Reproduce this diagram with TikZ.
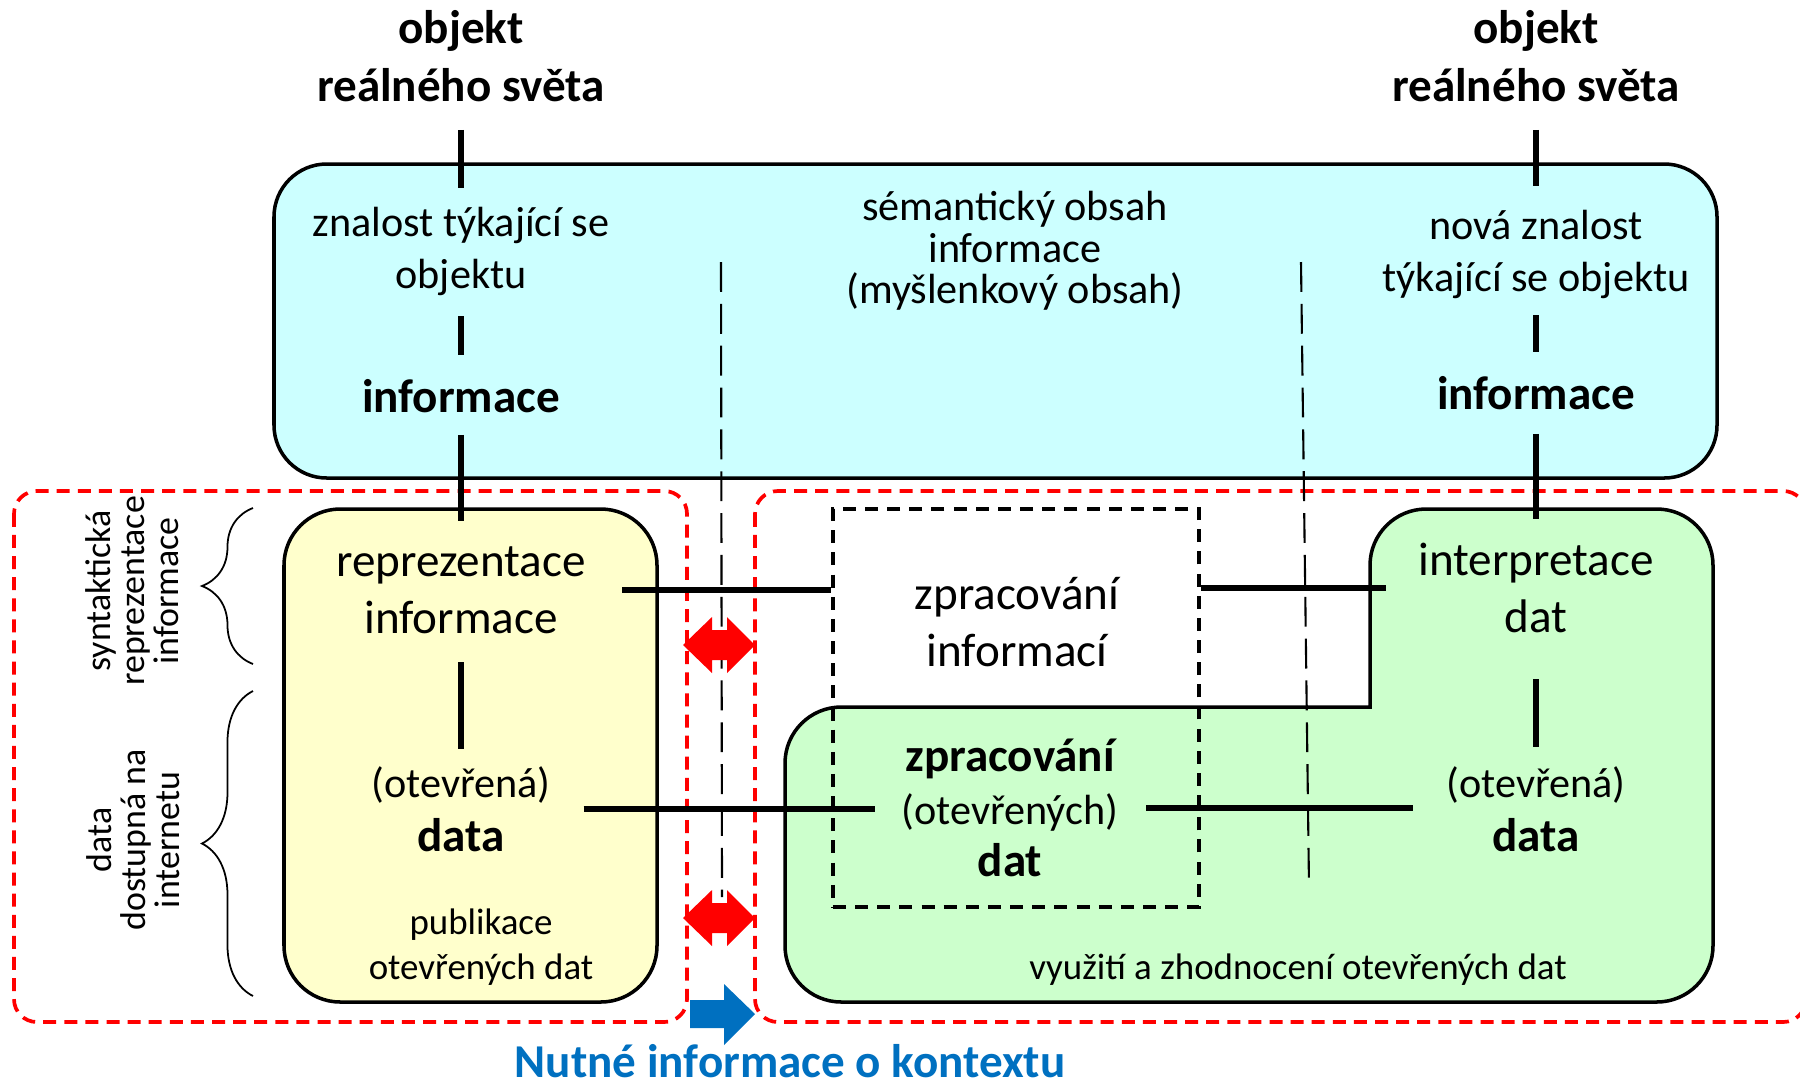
\documentclass[tikz,border=0pt]{standalone}
\usepackage{fontspec}
\setmainfont{Carlito}
\usepackage{xcolor}
\usetikzlibrary{positioning, decorations.pathreplacing}
\definecolor{SkyFill}{RGB}{204, 255, 255}
\definecolor{LemonFill}{RGB}{255, 255, 204}
\definecolor{MintFill}{RGB}{204, 255, 204}
\definecolor{CtxBlue}{RGB}{0, 112, 192}
\tikzset{
  panel/.style={draw=black, line width=1pt, rounded corners=15pt},
  zone/.style={draw=red, line width=1.05pt, dash pattern=on 3.7pt off 2.3pt,
    rounded corners=6.5pt},
  procframe/.style={draw=black, line width=1pt,
    dash pattern=on 3.7pt off 2.6pt, inner sep=0pt},
  guide/.style={line width=0.6pt, dash pattern=on 8.5pt off 3.4pt},
  curly/.style={decorate, decoration={brace, amplitude=0.51cm}, line width=0.5pt},
  link/.style={line width=1.65pt},
  headtxt/.style={font=\bfseries\fontsize{13.4}{16.5}\selectfont, align=center, inner sep=0pt},
  bigtxt/.style={font=\fontsize{13.4}{16.2}\selectfont, align=center, inner sep=0pt},
  midtxt/.style={font=\fontsize{12}{14.8}\selectfont, align=center, inner sep=0pt},
  smltxt/.style={font=\fontsize{10.5}{12.8}\selectfont, align=center, inner sep=0pt},
  sidetxt/.style={font=\fontsize{10.2}{9.7}\selectfont, align=center, inner sep=0pt, rotate=90},
}
\begin{document}
\begin{tikzpicture}[x=0.01cm, y=-0.01cm]
  \useasboundingbox (0,0) rectangle (1800,1084);
  % background shapes
  \draw[panel, fill=SkyFill] (274,164) rectangle (1717,478);
  \draw[zone] (14,491) rectangle (687,1022);
  \draw[zone] (755,491) rectangle (1806,1022);
  \draw[panel, fill=LemonFill, rounded corners=16pt] (284,509) rectangle (657,1002);
  \draw[panel, fill=MintFill, rounded corners=16pt, line cap=rect]
    (1370,707) -- (1370,509) -- (1713,509) -- (1713,1002) -- (785,1002)
    -- (785,707) -- (1370,707);
  \node[procframe, minimum width=3.66cm, minimum height=3.98cm] (procbox) at (1016,708) {};
  \draw[guide] (721,262) -- (722,897);
  \draw[guide] (1301,262) -- (1309,886);
  \draw[curly] (253,664) -- (253,508);
  \draw[curly] (253,996) -- (253,691);
  \foreach \yy in {645,918}
    \fill[red] (683,\yy) -- (712,\yy-28) -- (712,\yy-15) -- (727,\yy-15)
      -- (727,\yy-28) -- (755,\yy) -- (727,\yy+28) -- (727,\yy+15)
      -- (712,\yy+15) -- (712,\yy+28) -- cycle;
  \fill[CtxBlue] (690,1000) -- (724,1000) -- (724,984) -- (755,1014)
    -- (724,1045) -- (724,1028) -- (690,1028) -- cycle;

  % texts
  \node[headtxt] (titleL) at (461,56) {objekt\\reálného světa};
  \node[headtxt] (titleR) at (1536,56) {objekt\\reálného světa};
  \node[midtxt] (knowL) at (461,251) {znalost týkající se\\objektu};
  \node[midtxt] (knowR) at (1536,254) {nová znalost\\týkající se objektu};
  \node[midtxt, font=\fontsize{12}{11.8}\selectfont] (sem) at (1015,251)
    {sémantický obsah\\informace\\(myšlenkový obsah)};
  \node[headtxt] (infoL) at (461,396) {informace};
  \node[headtxt] (infoR) at (1536,393) {informace};
  \node[bigtxt] (reprL) at (461,590) {reprezentace\\informace};
  \node[bigtxt] (interpR) at (1536,588) {interpretace\\dat};
  \node[bigtxt] (procT) at (1017,622) {zpracování\\informací};
  \node[headtxt, font=\bfseries\fontsize{13.4}{15.4}\selectfont] (dataL) at (461,809)
    {{\mdseries\fontsize{12}{15.4}\selectfont (otevřená)}\\data};
  \node[headtxt, font=\bfseries\fontsize{13.4}{15.4}\selectfont] (dataR) at (1536,809)
    {{\mdseries\fontsize{12}{15.4}\selectfont (otevřená)}\\data};
  \node[headtxt, font=\bfseries\fontsize{13.4}{15}\selectfont] (procD) at (1010,808)
    {zpracování\\{\mdseries\fontsize{12}{15}\selectfont (otevřených)}\\dat};
  \node[smltxt] (pubL) at (481,947) {publikace\\otevřených dat};
  \node[smltxt] (useG) at (1298,970) {využití a zhodnocení otevřených dat};
  \node[sidetxt] (sideA) at (132,591) {syntaktická\\reprezentace\\informace};
  \node[sidetxt] (sideB) at (133,840) {data\\dostupná na\\internetu};
  \node[headtxt, text=CtxBlue] (ctx) at (790,1061) {Nutné informace o kontextu};

  % connectors
  \draw[link, shorten <=0.275cm, shorten >=0.18cm] (titleL) -- (knowL);
  \draw[link, shorten <=0.2cm, shorten >=0.235cm] (knowL) -- (infoL);
  \draw[link, shorten <=0.215cm, shorten >=0.25cm] (infoL) -- (reprL);
  \draw[link, shorten <=0.28cm, shorten >=0.17cm] (reprL) -- (dataL);
  \draw[link, shorten <=0.275cm, shorten >=0.23cm] (titleR) -- (knowR);
  \draw[link, shorten <=0.16cm, shorten >=0.235cm] (knowR) -- (infoR);
  \draw[link, shorten <=0.235cm, shorten >=0.23cm] (infoR) -- (interpR);
  \draw[link, shorten <=0.455cm, shorten >=0.19cm] (interpR) -- (dataR);
  \draw[link, shorten <=0.36cm] (reprL.east) -- (reprL.east -| procbox.west);
  \draw[link, shorten >=0.315cm] (procbox.east |- interpR.west) -- (interpR.west);
  \draw[link, shorten <=0.325cm, shorten >=0.265cm] (dataL.east) -- (dataL.east -| procD.west);
  \draw[link, shorten <=0.275cm, shorten >=0.325cm] (procD.east) -- (procD.east -| dataR.west);
\end{tikzpicture}
\end{document}
